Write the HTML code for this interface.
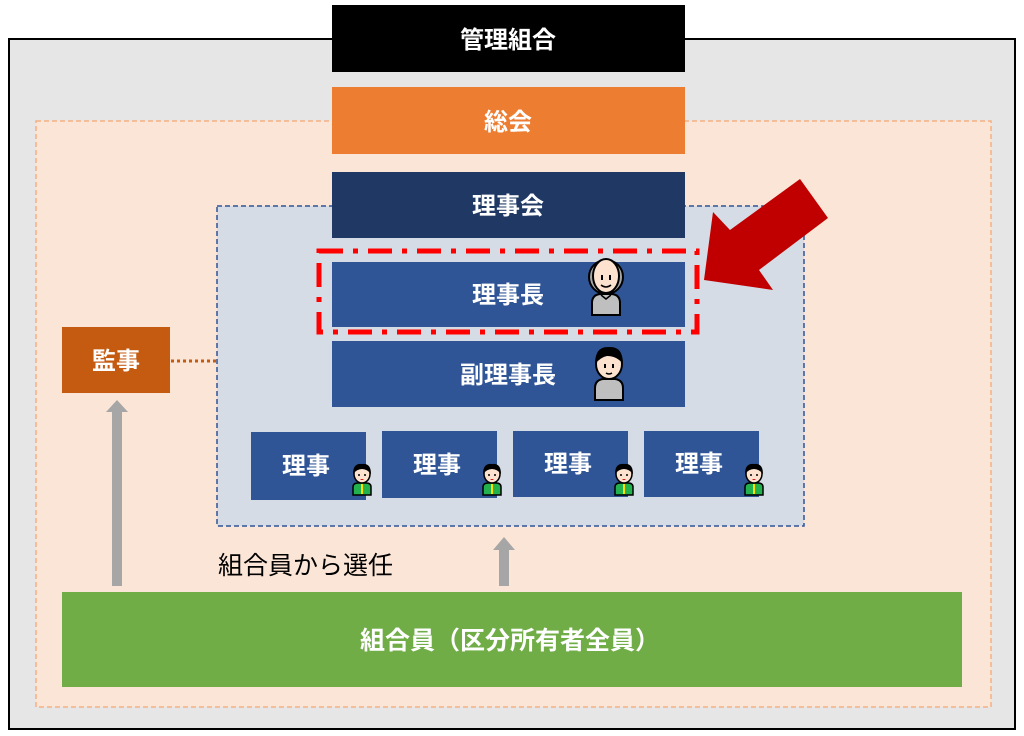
<!DOCTYPE html>
<html><head><meta charset="utf-8"><style>
html,body{margin:0;padding:0;background:#fff;width:1024px;height:736px;overflow:hidden}
svg text{font-family:"Liberation Sans","Noto Sans CJK JP",sans-serif;font-weight:bold}
</style></head><body>
<svg width="1024" height="736" viewBox="0 0 1024 736" xmlns="http://www.w3.org/2000/svg">
<defs>
<g id="old">
 <path d="M-14,30 L-14,18 Q-14,10 -6,9 L6,9 Q14,10 14,18 L14,30Z" fill="#bfbfbf" stroke="#000" stroke-width="2"/>
 <path d="M-5,10 L0,14 L5,10" fill="none" stroke="#000" stroke-width="1.5"/>
 <ellipse cx="0" cy="-8" rx="17" ry="17" fill="#a6a6a6" stroke="#000" stroke-width="2"/>
 <ellipse cx="0" cy="-9" rx="13" ry="17" fill="#fde3cf" stroke="#000" stroke-width="2"/>
 <rect x="-5" y="-10" width="2" height="5" fill="#000"/><rect x="3" y="-10" width="2" height="5" fill="#000"/>
 <path d="M-5,0 Q0,4 5,0" fill="none" stroke="#000" stroke-width="1.5"/>
</g>
<g id="vice">
 <path d="M-14,30 L-14,18 Q-14,10 -6,9 L6,9 Q14,10 14,18 L14,30Z" fill="#bfbfbf" stroke="#000" stroke-width="2"/>
 <ellipse cx="0" cy="-6" rx="13" ry="15" fill="#fde3cf" stroke="#000" stroke-width="2"/>
 <path d="M-14,-6 Q-14,-24 0,-23 Q14,-24 14,-6 Q8,-14 -2,-14 Q-8,-13 -14,-6Z" fill="#000"/>
 <rect x="-5" y="-6" width="2" height="4" fill="#000"/><rect x="3" y="-6" width="2" height="4" fill="#000"/>
 <path d="M-3,3 Q0,5 3,3" fill="none" stroke="#000" stroke-width="1.5"/>
</g>
<g id="mem">
 <path d="M-9,17 L-9,9 Q-9,5 -4,5 L4,5 Q9,5 9,9 L9,17Z" fill="#22b14c" stroke="#000" stroke-width="1.5"/>
 <rect x="-1" y="6" width="2" height="10" fill="#ffe000"/>
 <ellipse cx="0" cy="-4" rx="8" ry="9" fill="#fde3cf" stroke="#000" stroke-width="1.5"/>
 <path d="M-9,-4 Q-9,-15 0,-14 Q9,-15 9,-4 Q5,-9 0,-9 Q-5,-9 -9,-4Z" fill="#000"/>
 <circle cx="-3" cy="-3" r="1" fill="#000"/><circle cx="3" cy="-3" r="1" fill="#000"/>
 <path d="M-2,1 Q0,3 2,1" fill="#c00"/>
</g>
</defs>
<rect x="9" y="39" width="1006" height="690" fill="#e7e6e6" stroke="#000" stroke-width="2"/>
<rect x="36" y="121" width="955" height="586" fill="#fbe5d6" stroke="#f4b183" stroke-width="1.5" stroke-dasharray="5,3"/>
<rect x="217" y="206" width="587" height="320" fill="#d6dce5" stroke="#2f5597" stroke-width="1.5" stroke-dasharray="5,3"/>
<rect x="332" y="5" width="353" height="67" fill="#000"/>
<text x="508" y="48" fill="#fff" font-size="24" text-anchor="middle">管理組合</text>
<rect x="332" y="87" width="353" height="67" fill="#ed7d31"/>
<text x="508" y="130" fill="#fff" font-size="24" text-anchor="middle">総会</text>
<rect x="332" y="172" width="353" height="66" fill="#1f3864"/>
<text x="508" y="214" fill="#fff" font-size="24" text-anchor="middle">理事会</text>
<rect x="332" y="262" width="353" height="65" fill="#2f5597"/>
<text x="508" y="303" fill="#fff" font-size="24" text-anchor="middle">理事長</text>
<use href="#old" x="606" y="285"/>
<rect x="332" y="341" width="353" height="66" fill="#2f5597"/>
<text x="508" y="383" fill="#fff" font-size="24" text-anchor="middle">副理事長</text>
<use href="#vice" x="609" y="370"/>
<rect x="319" y="251" width="378" height="81" fill="none" stroke="#ff0000" stroke-width="5" stroke-dasharray="24,10,5,10"/>
<polygon points="704,280 713,212 730,230 800,179 828,218 759,270 773,290" fill="#c00000"/>
<g fill="#2f5597">
<rect x="251" y="432" width="115" height="68"/><rect x="382" y="431" width="115" height="67"/>
<rect x="513" y="431" width="115" height="66"/><rect x="644" y="431" width="115" height="66"/></g>
<g fill="#fff" font-size="24">
<text x="282" y="474">理事</text><text x="413" y="473">理事</text><text x="544" y="472">理事</text><text x="675" y="472">理事</text></g>
<use href="#mem" x="362" y="478"/><use href="#mem" x="492" y="478"/><use href="#mem" x="624" y="478"/><use href="#mem" x="754" y="478"/>
<rect x="62" y="327" width="108" height="66" fill="#c55a11"/>
<text x="116" y="369" fill="#fff" font-size="24" text-anchor="middle">監事</text>
<line x1="171" y1="361" x2="217" y2="361" stroke="#c55a11" stroke-width="3" stroke-dasharray="3,3"/>
<polygon points="112,586 122,586 122,412 128,412 117,400 106,412 112,412" fill="#a6a6a6"/>
<polygon points="499,586 509,586 509,550 515,550 504,537 493,550 499,550" fill="#a6a6a6"/>
<text x="218" y="574" fill="#000" font-size="25" style="font-weight:normal">組合員から選任</text>
<rect x="62" y="592" width="900" height="95" fill="#70ad47"/>
<text x="510" y="649" fill="#fff" font-size="25" text-anchor="middle">組合員（区分所有者全員）</text>
</svg>
</body></html>
